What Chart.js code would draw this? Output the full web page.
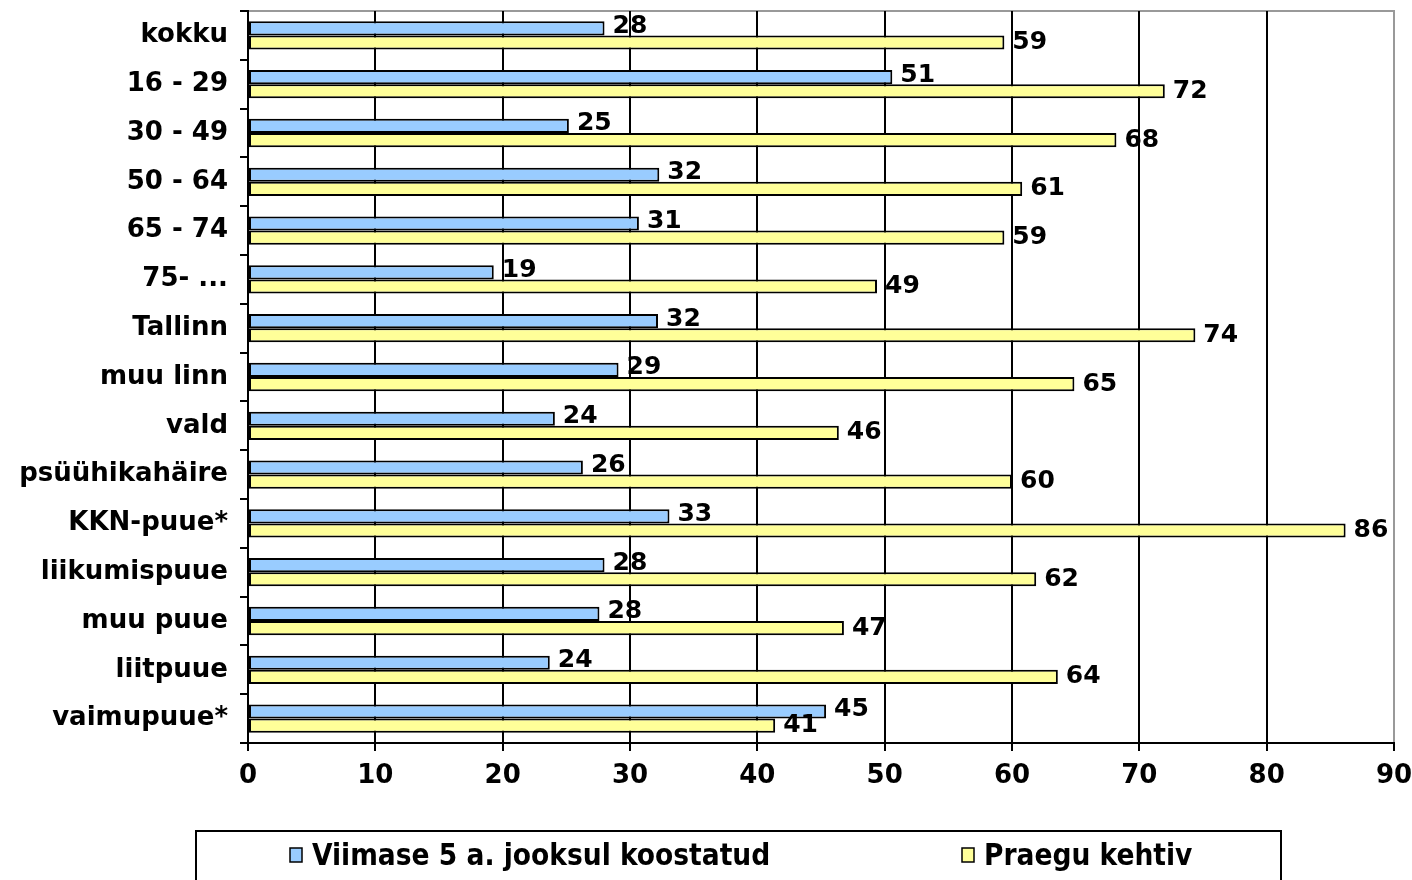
<!DOCTYPE html>
<html>
<head>
<meta charset="utf-8">
<script src="https://cdn.jsdelivr.net/npm/chart.js@4"></script>
<style>
  html, body { margin: 0; padding: 0; background: #fff; }
  #wrap { width: 1412px; height: 880px; }
</style>
</head>
<body>
<div id="wrap"><canvas id="chart" width="1412" height="880"></canvas></div>
<script>
'use strict';

// --- DATA ---
const categories = ['kokku', '16 - 29', '30 - 49', '50 - 64', '65 - 74', '75- ...', 'Tallinn', 'muu linn', 'vald',
    'psüühikahäire', 'KKN-puue*', 'liikumispuue', 'muu puue', 'liitpuue', 'vaimupuue*'];
const recentValues = [28.0, 50.6, 25.2, 32.3, 30.7, 19.3, 32.2, 29.1, 24.1, 26.3, 33.1, 28.0, 27.6, 23.7, 45.4];
const currentValues = [59.4, 72.0, 68.2, 60.8, 59.4, 49.4, 74.4, 64.9, 46.4, 60.0, 86.2, 61.9, 46.8, 63.6, 41.4];
const seriesNames = ['Viimase 5 a. jooksul koostatud', 'Praegu kehtiv'];
const xTicks = [0, 10, 20, 30, 40, 50, 60, 70, 80, 90];

const FONT = '"DejaVu Sans", Verdana, sans-serif';

// gray frame around plot area (top and right edges)
const framePlugin = {
    id: 'frame',
    beforeDraw(chart) {
        const { ctx, chartArea: a } = chart;
        ctx.save();
        ctx.strokeStyle = '#999999';
        ctx.lineWidth = 2;
        ctx.strokeRect(a.left, a.top, a.right - a.left, a.bottom - a.top);
        ctx.restore();
    }
};

// value labels at the end of each bar
const valueLabels = {
    id: 'valueLabels',
    afterDatasetsDraw(chart) {
        const ctx = chart.ctx;
        ctx.save();
        ctx.font = 'bold 25px ' + FONT;
        ctx.fillStyle = '#000';
        ctx.textBaseline = 'middle';
        ctx.textAlign = 'left';
        chart.data.datasets.forEach((ds, di) => {
            const meta = chart.getDatasetMeta(di);
            meta.data.forEach((bar, i) => {
                const dy = di === 0 ? -2 : 0;
                ctx.fillText(String(Math.round(ds.data[i])), bar.x + 8, bar.y + dy);
            });
        });
        ctx.restore();
    }
};

// boxed legend below the chart
const boxLegend = {
    id: 'boxLegend',
    afterDraw(chart) {
        const ctx = chart.ctx;
        ctx.save();
        ctx.strokeStyle = '#000';
        ctx.lineWidth = 2;
        ctx.strokeRect(196, 831, 1085, 70);
        ctx.font = 'bold 29.5px "DejaVu Sans Condensed", "DejaVu Sans", sans-serif';
        ctx.textBaseline = 'middle';
        const xs = [290, 962];
        chart.data.datasets.forEach((ds, i) => {
            ctx.fillStyle = ds.backgroundColor;
            ctx.fillRect(xs[i], 848, 12, 14);
            ctx.lineWidth = 1.5;
            ctx.strokeRect(xs[i], 848, 12, 14);
            ctx.fillStyle = '#000';
            ctx.fillText(ds.label, xs[i] + 22, 857);
        });
        ctx.restore();
    }
};

const ctx = document.getElementById('chart').getContext('2d');
new Chart(ctx, {
    type: 'bar',
    data: {
        labels: categories,
        datasets: [
            {
                label: seriesNames[0],
                data: recentValues,
                backgroundColor: '#99CCFF',
                borderColor: '#000',
                borderWidth: 2,
                borderSkipped: false,
                categoryPercentage: 0.58,
                barPercentage: 1
            },
            {
                label: seriesNames[1],
                data: currentValues,
                backgroundColor: '#FFFF99',
                borderColor: '#000',
                borderWidth: 2,
                borderSkipped: false,
                categoryPercentage: 0.58,
                barPercentage: 1
            }
        ]
    },
    options: {
        indexAxis: 'y',
        responsive: false,
        animation: false,
        layout: { padding: { top: 11, right: 18, bottom: 77, left: 0 } },
        plugins: {
            legend: { display: false },
            tooltip: { enabled: false }
        },
        scales: {
            x: {
                min: 0,
                max: 90,
                afterBuildTicks: s => { s.ticks = xTicks.map(v => ({ value: v })); },
                afterFit: s => { s.height = 60; s.paddingLeft = 0; s.paddingRight = 0; },
                border: { color: '#000', width: 2 },
                grid: {
                    color: c => (c.tick && c.tick.value === 90 ? '#999999' : '#000'),
                    lineWidth: 2,
                    tickLength: 8,
                    tickColor: '#000'
                },
                ticks: {
                    color: '#000',
                    font: { family: FONT, size: 26, weight: 'bold' },
                    padding: 10,
                    maxRotation: 0
                }
            },
            y: {
                afterFit: s => { s.width = 248; s.paddingTop = 0; s.paddingBottom = 0; },
                border: { color: '#000', width: 2 },
                grid: {
                    drawOnChartArea: false,
                    offset: true,
                    tickLength: 8,
                    tickColor: '#000',
                    lineWidth: 2
                },
                ticks: {
                    color: '#000',
                    font: { family: FONT, size: 26, weight: 'bold' },
                    padding: 12,
                    autoSkip: false
                }
            }
        }
    },
    plugins: [framePlugin, valueLabels, boxLegend]
});
</script>
</body>
</html>
